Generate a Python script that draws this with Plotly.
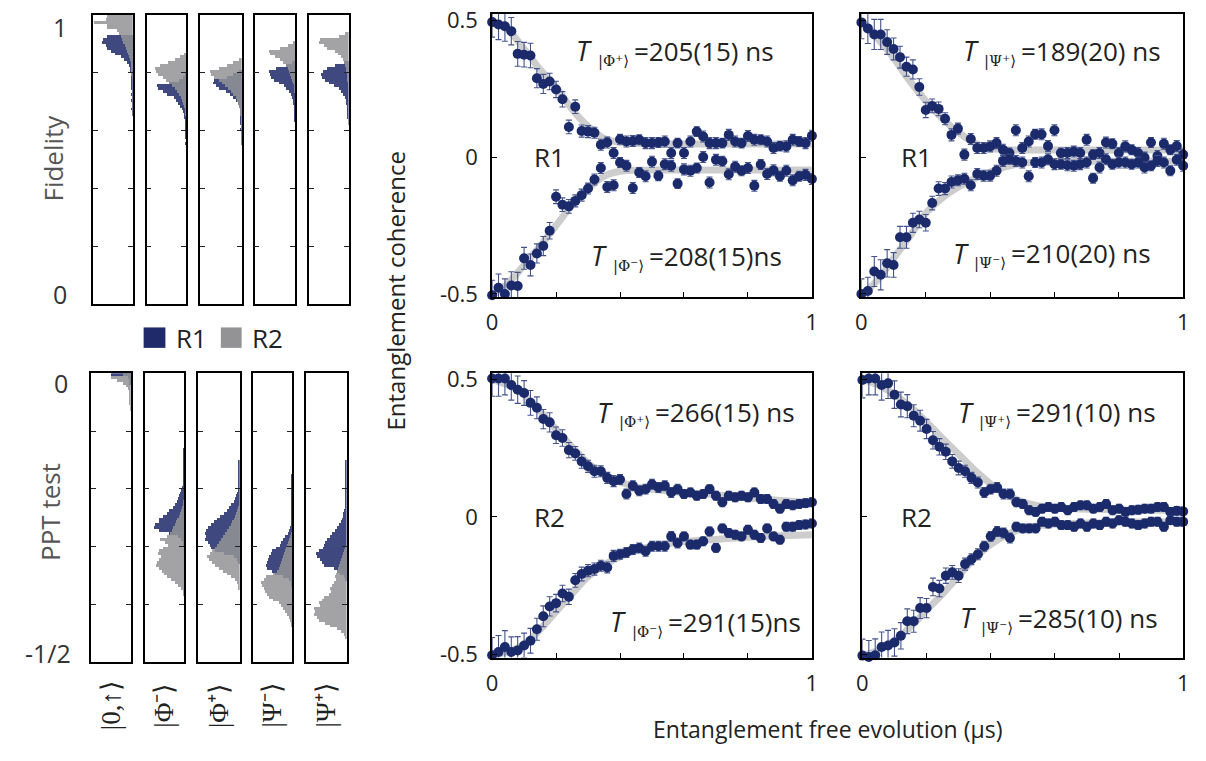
import plotly.graph_objects as go

W, H = 1206, 761

# ---------------- data: entanglement coherence decay ----------------
T_US = [0.00, 0.02, 0.04, 0.06, 0.08, 0.10, 0.12, 0.14, 0.16, 0.18, 0.20, 0.22, 0.24, 0.26, 0.28,
        0.30, 0.32, 0.34, 0.36, 0.38, 0.40, 0.42, 0.44, 0.46, 0.48, 0.50, 0.52, 0.54, 0.56, 0.58,
        0.60, 0.62, 0.64, 0.66, 0.68, 0.70, 0.72, 0.74, 0.76, 0.78, 0.80, 0.82, 0.84, 0.86, 0.88,
        0.90, 0.92, 0.94, 0.96, 0.98, 1.00]

PHIP_R1 = [0.493, 0.484, 0.478, 0.460, 0.377, 0.374, 0.371, 0.288, 0.267, 0.276, 0.247, 0.211, 0.110,
           0.184, 0.095, 0.093, 0.089, 0.045, 0.053, 0.015, 0.065, 0.057, 0.059, 0.063, 0.051, 0.051,
           0.053, 0.057, 0.015, 0.051, 0.015, 0.057, 0.093, 0.075, 0.051, 0.051, 0.051, 0.081, 0.057,
           0.051, 0.077, 0.063, 0.063, 0.057, 0.033, 0.040, 0.039, 0.063, 0.057, 0.051, 0.078]
PHIM_R1 = [-0.505, -0.477, -0.500, -0.469, -0.471, -0.370, -0.394, -0.352, -0.325, -0.269, -0.145,
           -0.174, -0.180, -0.160, -0.139, -0.115, -0.082, -0.040, -0.109, -0.103, -0.020, -0.032,
           -0.113, -0.056, -0.070, -0.017, -0.068, -0.026, -0.032, -0.097, -0.045, -0.050, -0.040,
           0.000, -0.093, -0.010, -0.015, -0.063, -0.035, -0.050, -0.040, -0.105, -0.027, -0.062,
           -0.048, -0.070, -0.050, -0.085, -0.070, -0.065, -0.080]
PSIP_R1 = [0.492, 0.470, 0.448, 0.448, 0.420, 0.395, 0.365, 0.330, 0.320, 0.256, 0.172, 0.187, 0.176,
           0.140, 0.081, 0.104, 0.009, 0.066, 0.033, 0.033, 0.039, 0.051, 0.027, 0.015, 0.098, 0.033,
           0.057, 0.083, 0.083, 0.040, 0.098, 0.015, 0.015, 0.020, 0.015, 0.063, 0.009, 0.015, 0.053,
           0.049, 0.015, 0.039, 0.027, 0.015, -0.002, 0.053, 0.004, 0.049, 0.027, 0.040, 0.009]
PSIM_R1 = [-0.500, -0.489, -0.418, -0.430, -0.388, -0.394, -0.293, -0.293, -0.240, -0.228, -0.240,
           -0.168, -0.115, -0.115, -0.091, -0.085, -0.079, -0.103, -0.062, -0.068, -0.068, -0.050,
           -0.014, -0.008, -0.014, -0.020, -0.070, -0.020, -0.020, -0.008, -0.026, -0.026, -0.030,
           -0.032, -0.026, -0.020, -0.077, -0.038, -0.008, -0.026, -0.020, -0.020, -0.026, -0.020,
           -0.038, -0.032, -0.014, -0.020, -0.050, -0.010, -0.032]
PHIP_R2 = [0.504, 0.504, 0.504, 0.480, 0.463, 0.451, 0.415, 0.397, 0.356, 0.344, 0.297, 0.287, 0.243,
           0.231, 0.202, 0.184, 0.166, 0.166, 0.142, 0.130, 0.136, 0.083, 0.113, 0.095, 0.101, 0.119,
           0.107, 0.113, 0.089, 0.101, 0.083, 0.089, 0.077, 0.083, 0.101, 0.077, 0.053, 0.077, 0.071,
           0.077, 0.071, 0.089, 0.065, 0.065, 0.047, 0.030, 0.047, 0.042, 0.047, 0.050, 0.053]
PHIM_R2 = [-0.504, -0.492, -0.474, -0.492, -0.486, -0.468, -0.451, -0.409, -0.362, -0.326, -0.314,
           -0.279, -0.291, -0.231, -0.208, -0.196, -0.190, -0.178, -0.184, -0.142, -0.136, -0.130,
           -0.119, -0.113, -0.125, -0.107, -0.107, -0.107, -0.071, -0.095, -0.071, -0.101, -0.101,
           -0.089, -0.053, -0.113, -0.042, -0.059, -0.065, -0.071, -0.047, -0.065, -0.077, -0.042,
           -0.071, -0.083, -0.036, -0.036, -0.030, -0.028, -0.024]
PSIP_R2 = [0.498, 0.504, 0.504, 0.480, 0.486, 0.445, 0.409, 0.403, 0.368, 0.350, 0.320, 0.279, 0.255,
           0.237, 0.202, 0.178, 0.166, 0.142, 0.125, 0.089, 0.101, 0.107, 0.083, 0.083, 0.053, 0.047,
           0.024, 0.018, 0.030, 0.036, 0.030, 0.036, 0.024, 0.036, 0.042, 0.042, 0.030, 0.036, 0.047,
           0.024, 0.030, 0.018, 0.024, 0.026, 0.030, 0.030, 0.036, 0.036, 0.018, 0.022, 0.020]
PSIM_R2 = [-0.505, -0.510, -0.504, -0.474, -0.468, -0.457, -0.433, -0.380, -0.380, -0.332, -0.332,
           -0.255, -0.261, -0.214, -0.202, -0.214, -0.172, -0.154, -0.136, -0.107, -0.071, -0.053,
           -0.059, -0.077, -0.036, -0.042, -0.042, -0.042, -0.018, -0.024, -0.018, -0.030, -0.030,
           -0.036, -0.024, -0.036, -0.024, -0.030, -0.018, -0.024, -0.012, -0.018, -0.024, -0.030,
           -0.024, -0.018, -0.018, -0.036, -0.012, -0.018, -0.018]

ERR_PHIP_R1 = [0.055, 0.055, 0.055, 0.050, 0.045, 0.045, 0.045, 0.035, 0.035, 0.030, 0.030, 0.028,
               0.025, 0.025, 0.022, 0.022, 0.020, 0.020, 0.020, 0.020, 0.018, 0.020, 0.020, 0.018,
               0.020, 0.020, 0.018, 0.020, 0.020, 0.018, 0.020, 0.020, 0.018, 0.020, 0.020, 0.020,
               0.018, 0.020, 0.020, 0.018, 0.020, 0.020, 0.018, 0.020, 0.020, 0.018, 0.020, 0.020,
               0.018, 0.020, 0.020]
ERR_PHIM_R1 = [0.055, 0.050, 0.055, 0.050, 0.050, 0.040, 0.040, 0.035, 0.035, 0.030, 0.025, 0.025,
               0.025, 0.022, 0.022, 0.020, 0.020, 0.020, 0.020, 0.020, 0.018, 0.020, 0.020, 0.018,
               0.020, 0.020, 0.018, 0.020, 0.020, 0.018, 0.020, 0.020, 0.018, 0.020, 0.020, 0.020,
               0.018, 0.020, 0.020, 0.018, 0.020, 0.020, 0.018, 0.020, 0.020, 0.018, 0.020, 0.020,
               0.018, 0.020, 0.020]
ERR_PSIP_R1 = [0.060, 0.055, 0.055, 0.055, 0.045, 0.040, 0.040, 0.035, 0.035, 0.030, 0.028, 0.025,
               0.025, 0.022, 0.022, 0.020, 0.020, 0.020, 0.020, 0.020, 0.020, 0.020, 0.020, 0.018,
               0.020, 0.020, 0.020, 0.018, 0.020, 0.020, 0.020, 0.018, 0.020, 0.020, 0.020, 0.020,
               0.018, 0.020, 0.020, 0.018, 0.020, 0.020, 0.018, 0.020, 0.020, 0.018, 0.020, 0.020,
               0.018, 0.020, 0.020]
ERR_PSIM_R1 = [0.055, 0.050, 0.055, 0.055, 0.050, 0.045, 0.040, 0.040, 0.035, 0.030, 0.030, 0.025,
               0.025, 0.022, 0.022, 0.020, 0.020, 0.020, 0.020, 0.020, 0.020, 0.020, 0.020, 0.018,
               0.020, 0.020, 0.020, 0.018, 0.020, 0.020, 0.020, 0.018, 0.020, 0.020, 0.020, 0.020,
               0.018, 0.020, 0.020, 0.018, 0.020, 0.020, 0.018, 0.020, 0.020, 0.018, 0.020, 0.020,
               0.018, 0.020, 0.020]
ERR_PHIP_R2 = [0.065, 0.065, 0.060, 0.055, 0.050, 0.045, 0.045, 0.040, 0.035, 0.035, 0.030, 0.030,
               0.028, 0.025, 0.025, 0.022, 0.022, 0.020, 0.020, 0.020, 0.018, 0.018, 0.018, 0.018,
               0.018, 0.018, 0.018, 0.018, 0.018, 0.018, 0.016, 0.016, 0.016, 0.016, 0.016, 0.016,
               0.016, 0.016, 0.016, 0.016, 0.016, 0.016, 0.016, 0.016, 0.016, 0.016, 0.016, 0.016,
               0.016, 0.016, 0.016]
ERR_PHIM_R2 = [0.065, 0.060, 0.060, 0.055, 0.050, 0.045, 0.045, 0.040, 0.038, 0.035, 0.032, 0.030,
               0.028, 0.025, 0.025, 0.022, 0.022, 0.020, 0.020, 0.020, 0.018, 0.018, 0.018, 0.018,
               0.018, 0.018, 0.018, 0.018, 0.018, 0.018, 0.016, 0.016, 0.016, 0.016, 0.016, 0.016,
               0.016, 0.016, 0.016, 0.016, 0.016, 0.016, 0.016, 0.016, 0.016, 0.016, 0.016, 0.016,
               0.016, 0.016, 0.016]
ERR_PSIP_R2 = [0.065, 0.060, 0.060, 0.055, 0.055, 0.050, 0.045, 0.042, 0.040, 0.038, 0.035, 0.032,
               0.030, 0.028, 0.025, 0.025, 0.022, 0.020, 0.020, 0.018, 0.018, 0.018, 0.018, 0.018,
               0.016, 0.016, 0.016, 0.016, 0.016, 0.016, 0.016, 0.016, 0.016, 0.016, 0.016, 0.016,
               0.016, 0.016, 0.016, 0.016, 0.016, 0.016, 0.016, 0.016, 0.016, 0.016, 0.016, 0.016,
               0.016, 0.016, 0.016]
ERR_PSIM_R2 = [0.060, 0.060, 0.060, 0.055, 0.055, 0.050, 0.048, 0.045, 0.040, 0.038, 0.035, 0.032,
               0.030, 0.028, 0.025, 0.025, 0.022, 0.020, 0.020, 0.018, 0.018, 0.018, 0.018, 0.018,
               0.016, 0.016, 0.016, 0.016, 0.016, 0.016, 0.016, 0.016, 0.016, 0.016, 0.016, 0.016,
               0.016, 0.016, 0.016, 0.016, 0.016, 0.016, 0.016, 0.016, 0.016, 0.016, 0.016, 0.016,
               0.016, 0.016, 0.016]

FIT_T = [0.00, 0.05, 0.10, 0.15, 0.20, 0.25, 0.30, 0.35, 0.40, 0.45, 0.50,
         0.55, 0.60, 0.65, 0.70, 0.75, 0.80, 0.85, 0.90, 0.95, 1.00]
FIT_PHIP_R1 = [0.497, 0.465, 0.395, 0.320, 0.255, 0.175, 0.112, 0.068, 0.053, 0.050, 0.049,
               0.048, 0.048, 0.048, 0.048, 0.048, 0.048, 0.048, 0.048, 0.048, 0.048]
FIT_PHIM_R1 = [-0.505, -0.460, -0.395, -0.325, -0.250, -0.175, -0.115, -0.070, -0.052, -0.048, -0.047,
               -0.047, -0.047, -0.047, -0.047, -0.047, -0.047, -0.047, -0.047, -0.047, -0.047]
FIT_PSIP_R1 = [0.500, 0.434, 0.362, 0.278, 0.206, 0.143, 0.092, 0.052, 0.032, 0.027, 0.026,
               0.026, 0.026, 0.026, 0.026, 0.026, 0.026, 0.026, 0.026, 0.026, 0.026]
FIT_PSIM_R1 = [-0.505, -0.450, -0.370, -0.290, -0.205, -0.150, -0.110, -0.080, -0.055, -0.035, -0.022,
               -0.018, -0.016, -0.015, -0.015, -0.015, -0.015, -0.015, -0.015, -0.015, -0.015]
FIT_PHIP_R2 = [0.500, 0.480, 0.445, 0.385, 0.318, 0.255, 0.195, 0.155, 0.127, 0.110, 0.100,
               0.094, 0.088, 0.085, 0.080, 0.075, 0.068, 0.064, 0.060, 0.056, 0.053]
FIT_PHIM_R2 = [-0.505, -0.490, -0.465, -0.410, -0.345, -0.280, -0.218, -0.175, -0.145, -0.122, -0.108,
               -0.098, -0.090, -0.085, -0.082, -0.078, -0.074, -0.071, -0.069, -0.067, -0.065]
FIT_PSIP_R2 = [0.500, 0.480, 0.445, 0.400, 0.345, 0.285, 0.228, 0.170, 0.120, 0.080, 0.055,
               0.040, 0.033, 0.030, 0.028, 0.027, 0.026, 0.025, 0.025, 0.024, 0.024]
FIT_PSIM_R2 = [-0.505, -0.485, -0.450, -0.400, -0.340, -0.280, -0.215, -0.150, -0.100, -0.065, -0.043,
               -0.032, -0.027, -0.024, -0.022, -0.021, -0.020, -0.019, -0.019, -0.018, -0.018]

# ---------------- data: histograms (counts per bin, bin 0 at the top) ----------------
STATE_LABELS = ["|0,\u2191\u27e9", "|\u03a6\u207b\u27e9", "|\u03a6\u207a\u27e9", "|\u03a8\u207b\u27e9", "|\u03a8\u207a\u27e9"]
FID_BIN_WIDTH = 0.01
PPT_BIN_WIDTH = 0.005

FID_R1_0UP = [0]*7 + [26, 31, 32, 28, 27, 22, 18, 12, 9, 6, 4, 3, 2.5, 2, 1.5, 1, 1, 1, 1, 0.5, 1, 0.5, 1, 0.5, 0.5, 1, 0.5, 0.5]
FID_R2_0UP = [27, 28, 40, 27, 26, 16, 14, 12, 11, 10, 8, 7, 6, 5, 4, 3, 2, 2, 1, 1, 1, 0.5]
FID_R1_PHIM = [0]*20 + [2, 4, 8, 18, 31, 30, 24, 20, 13, 11, 9, 7, 5, 4, 3, 3, 2, 2, 1.5, 1, 1, 1, 1, 0.5, 1, 0.5, 0.5, 0.5, 0.5, 0.5]
FID_R2_PHIM = [0]*13 + [3, 7, 12, 19, 28, 33, 32, 30, 24, 21, 18, 15, 12, 10, 8, 6, 5, 4, 3, 2, 2, 1]
FID_R1_PHIP = [0]*19 + [3, 8, 14, 27, 28, 25, 22, 15, 11, 8, 6, 4, 3, 2, 2, 1.5, 1, 1, 1, 0.5, 1, 0.5, 0.5, 0.5, 0.5, 0.5]
FID_R2_PHIP = [0]*15 + [3, 8, 14, 22, 31, 30, 27, 22, 19, 16, 13, 10, 8, 6, 5, 4, 3, 2, 1, 1]
FID_R1_PSIM = [0]*16 + [4, 10, 20, 27, 26, 25, 22, 17, 12, 10, 7, 5, 4, 3, 3, 2, 2, 1, 1, 1, 1, 0.5, 0.5]
FID_R2_PSIM = [0]*9 + [3, 8, 16, 27, 26, 21, 16, 13, 10, 8, 7, 6, 5, 4, 3, 2, 2, 1]
FID_R1_PSIP = [0]*16 + [5, 14, 22, 26, 29, 28, 24, 20, 15, 10, 8, 6, 4, 3, 3, 2, 2, 1, 1, 1, 0.5, 0.5]
FID_R2_PSIP = [0]*6 + [4, 10, 30, 31, 25, 22, 14, 11, 8, 6, 5, 4, 3, 3, 2, 2, 1]

PPT_R1_0UP = [20, 3, 1, 1]
PPT_R2_0UP = [8, 20, 14, 8, 5, 3, 2, 2, 1, 1, 1, 0.5, 0.5]
PPT_R1_PHIM = [0]*26 + [1]*13 + [3, 4, 5, 6, 7, 8, 10, 12, 16, 18, 22, 26, 27, 31, 32, 27, 16, 7, 4, 2, 1]
PPT_R2_PHIM = [0]*44 + [2, 2, 3, 4, 5, 6, 8, 9, 10, 12, 13, 15, 18, 25, 20, 17, 22, 26, 28, 24, 27, 29,
                        30, 26, 23, 21, 18, 14, 10, 7, 4, 2, 1]
PPT_R1_PHIP = [0]*30 + [1]*10 + [2, 3, 4, 5, 6, 8, 10, 12, 15, 19, 22, 25, 28, 31, 33, 34, 33, 34, 31, 29,
                                 28, 24, 15, 6, 3, 1]
PPT_R2_PHIP = [0]*46 + [2, 3, 4, 5, 6, 7, 8, 10, 12, 14, 16, 18, 20, 22, 24, 27, 29, 32, 30, 27, 24, 20,
                        16, 12, 8, 5, 3, 2, 1]
PPT_R1_PSIM = [0]*35 + [1]*16 + [1, 2, 3, 4, 5, 8, 10, 12, 13, 17, 21, 22, 24, 25, 26, 28, 27, 21, 18, 10, 4, 2, 1]
PPT_R2_PSIM = [0]*55 + [2, 3, 4, 5, 6, 7, 8, 9, 10, 11, 12, 13, 14, 16, 20, 28, 30, 33, 32, 30, 29, 27, 24,
                        20, 14, 12, 10, 8, 6, 4, 3, 2, 1]
PPT_R1_PSIP = [0]*30 + [1]*15 + [2, 2, 3, 4, 4, 5, 6, 8, 10, 12, 15, 17, 20, 22, 23, 24, 28, 31, 30, 27, 25,
                                 23, 13, 10, 7, 3, 1]
PPT_R2_PSIP = [0]*60 + [2, 3, 4, 5, 6, 7, 8, 9, 10, 11, 12, 11, 13, 15, 17, 16, 18, 23, 25, 28, 27, 33, 32,
                        33, 30, 28, 22, 17, 10, 6, 3, 1]

FID_R1 = [FID_R1_0UP, FID_R1_PHIM, FID_R1_PHIP, FID_R1_PSIM, FID_R1_PSIP]
FID_R2 = [FID_R2_0UP, FID_R2_PHIM, FID_R2_PHIP, FID_R2_PSIM, FID_R2_PSIP]
PPT_R1 = [PPT_R1_0UP, PPT_R1_PHIM, PPT_R1_PHIP, PPT_R1_PSIM, PPT_R1_PSIP]
PPT_R2 = [PPT_R2_0UP, PPT_R2_PHIM, PPT_R2_PHIP, PPT_R2_PSIM, PPT_R2_PSIP]

FID_BINS = [1 - FID_BIN_WIDTH * (k + 0.5) for k in range(100)]
PPT_BINS = [-PPT_BIN_WIDTH * (k + 0.5) for k in range(100)]

# ---------------- style ----------------
BLUE = "#1f2a6a"
GRAY = "#939396"
DOT = "#1b2a6b"
ERRC = "#44538c"
FITC = "#cdcdcd"
TXT = "#222222"
SANS = "Open Sans"


def dom_x(x0, x1):
    return [x0 / W, x1 / W]


def dom_y(y0, y1):
    return [1 - y1 / H, 1 - y0 / H]


fig = go.Figure()
layout = dict(width=W, height=H, margin=dict(l=0, r=0, t=0, b=0), autosize=False,
              paper_bgcolor="white", plot_bgcolor="white", showlegend=False,
              barmode="overlay", bargap=0, font=dict(family=SANS, color=TXT))

# ---------------- main panels ----------------
# pup / pdn: position (t, value) of the "=" sign of the time-constant labels
PANELS = [
    dict(box=(491, 814, 4, 295), up=(PHIP_R1, ERR_PHIP_R1, FIT_PHIP_R1), dn=(PHIM_R1, ERR_PHIM_R1, FIT_PHIM_R1),
         ylab=True, reg="R1", sym="\u03a6", tup="=205(15) ns", tdn="=208(15)ns",
         pup=(0.436, 0.388), pdn=(0.483, -0.36), preg=(0.18, 0.0)),
    dict(box=(864, 1189, 4, 295), up=(PSIP_R1, ERR_PSIP_R1, FIT_PSIP_R1), dn=(PSIM_R1, ERR_PSIM_R1, FIT_PSIM_R1),
         ylab=False, reg="R1", sym="\u03a8", tup="=189(20) ns", tdn="=210(20) ns",
         pup=(0.489, 0.388), pdn=(0.458, -0.352), preg=(0.17, 0.0)),
    dict(box=(491, 814, 373, 665), up=(PHIP_R2, ERR_PHIP_R2, FIT_PHIP_R2), dn=(PHIM_R2, ERR_PHIM_R2, FIT_PHIM_R2),
         ylab=True, reg="R2", sym="\u03a6", tup="=266(15) ns", tdn="=291(15)ns",
         pup=(0.502, 0.381), pdn=(0.545, -0.381), preg=(0.18, 0.0)),
    dict(box=(865, 1189, 373, 665), up=(PSIP_R2, ERR_PSIP_R2, FIT_PSIP_R2), dn=(PSIM_R2, ERR_PSIM_R2, FIT_PSIM_R2),
         ylab=False, reg="R2", sym="\u03a8", tup="=291(10) ns", tdn="=285(10) ns",
         pup=(0.472, 0.381), pdn=(0.478, -0.367), preg=(0.17, 0.0)),
]

annotations = []
shapes = []


def tlabel(xa, ya, pos, sym, sign, val):
    base = dict(x=pos[0], y=pos[1], xref=xa, yref=ya, showarrow=False, yanchor="middle")
    annotations.append(dict(base, text=val, xanchor="left",
                            font=dict(size=26, family=SANS, color=TXT)))
    annotations.append(dict(base, text="|" + sym + sign + "\u27e9", xanchor="right", xshift=-1, yshift=-10,
                            font=dict(size=15, family="DejaVu Serif", color=TXT)))
    annotations.append(dict(base, text="<i>T</i>", xanchor="right", xshift=-38,
                            font=dict(size=27, family=SANS, color=TXT)))


AX_MINOR_BASE = 20  # axis ids used for the unlabeled minor-tick overlay axes
for i, p in enumerate(PANELS):
    n = i + 1
    xa = "x" if n == 1 else f"x{n}"
    ya = "y" if n == 1 else f"y{n}"
    x0, x1, y0, y1 = p["box"]
    layout["xaxis" if n == 1 else f"xaxis{n}"] = dict(
        domain=dom_x(x0, x1), anchor=ya, range=[0, 1], showgrid=False, zeroline=False,
        showline=True, linecolor="black", linewidth=1.5, mirror=True,
        ticks="inside", ticklen=5, tickwidth=1, tickcolor="black",
        tickvals=[0, 1], ticktext=["0", "1"],
        tickfont=dict(size=22, family=SANS, color=TXT), ticklabelstandoff=5)
    m = AX_MINOR_BASE + n
    layout[f"xaxis{m}"] = dict(
        domain=dom_x(x0, x1), anchor=ya, overlaying=xa, side="bottom", range=[0, 1],
        showgrid=False, zeroline=False, showline=False, ticks="inside", ticklen=5, tickwidth=1,
        tickcolor="black", tickvals=[0.2, 0.4, 0.6, 0.8], showticklabels=False)
    layout["yaxis" if n == 1 else f"yaxis{n}"] = dict(
        domain=dom_y(y0, y1), anchor=xa, range=[-0.512, 0.523], showgrid=False, zeroline=False,
        showline=True, linecolor="black", linewidth=1.5, mirror=True,
        ticks="inside", ticklen=5, tickwidth=1, tickcolor="black",
        tickvals=[-0.5, 0, 0.5], ticktext=["-0.5", "0", "0.5"], showticklabels=p["ylab"],
        tickfont=dict(size=22, family=SANS, color=TXT), ticklabelstandoff=8)
    fig.add_trace(go.Scatter(x=[0, 1], y=[0, 0], mode="lines", xaxis=f"x{m}", yaxis=ya,
                             line=dict(width=0, color="rgba(0,0,0,0)"), hoverinfo="skip"))
    for key in ("up", "dn"):
        vals, errs, fit = p[key]
        fig.add_trace(go.Scatter(x=FIT_T, y=fit, mode="lines", xaxis=xa, yaxis=ya,
                                 line=dict(color=FITC, width=7, shape="spline", smoothing=0.8),
                                 hoverinfo="skip", cliponaxis=True))
    for key in ("up", "dn"):
        vals, errs, fit = p[key]
        fig.add_trace(go.Scatter(x=T_US, y=vals, mode="markers", xaxis=xa, yaxis=ya,
                                 marker=dict(color=DOT, size=10, line=dict(width=0)),
                                 error_y=dict(type="data", array=errs, visible=True, color=ERRC,
                                              thickness=1.1, width=3),
                                 cliponaxis=False))
    tlabel(xa, ya, p["pup"], p["sym"], "\u207a", p["tup"])
    tlabel(xa, ya, p["pdn"], p["sym"], "\u207b", p["tdn"])
    annotations.append(dict(x=p["preg"][0], y=p["preg"][1], xref=xa, yref=ya, showarrow=False,
                            text=p["reg"], xanchor="center", yanchor="middle",
                            font=dict(size=26, family=SANS, color=TXT)))

# ---------------- histograms ----------------
TOP_BOXES = [(88, 128), (142, 182), (196, 238), (251, 292), (306, 346)]
BOT_BOXES = [(86, 126), (140, 180), (194, 236), (249, 289), (303, 344)]

n = 4
for row, (boxes, yb, r1s, r2s, bins, bw, yr, tv) in enumerate([
        (TOP_BOXES, (5, 302), FID_R1, FID_R2, FID_BINS, FID_BIN_WIDTH, [0, 1], [0.2, 0.4, 0.6, 0.8]),
        (BOT_BOXES, (373, 670), PPT_R1, PPT_R2, PPT_BINS, PPT_BIN_WIDTH, [-0.5, 0], [-0.4, -0.3, -0.2, -0.1])]):
    for j, (bx0, bx1) in enumerate(boxes):
        n += 1
        xa, ya = f"x{n}", f"y{n}"
        layout[f"xaxis{n}"] = dict(domain=dom_x(bx0, bx1), anchor=ya, range=[41, 0], showgrid=False,
                                   zeroline=False, showline=True, linecolor="black", linewidth=1.5,
                                   mirror=True, ticks="", showticklabels=False)
        layout[f"yaxis{n}"] = dict(domain=dom_y(*yb), anchor=xa, range=yr, showgrid=False,
                                   zeroline=False, showline=True, linecolor="black", linewidth=1.5,
                                   mirror="ticks", ticks="inside", ticklen=5, tickwidth=1.2,
                                   tickcolor="#222", tickvals=tv, showticklabels=False)
        c1, c2 = r1s[j], r2s[j]
        fig.add_trace(go.Bar(x=c1, y=bins[:len(c1)], orientation="h", width=bw, xaxis=xa, yaxis=ya,
                             marker=dict(color=BLUE, line=dict(width=0)), opacity=0.85, hoverinfo="skip"))
        fig.add_trace(go.Bar(x=c2, y=bins[:len(c2)], orientation="h", width=bw, xaxis=xa, yaxis=ya,
                             marker=dict(color=GRAY, line=dict(width=0)), opacity=0.85, hoverinfo="skip"))


def pa(text, x, y, size=24, color=TXT, angle=0, family=SANS, xanchor="center"):
    annotations.append(dict(x=x / W, y=1 - y / H, xref="paper", yref="paper", text=text, showarrow=False,
                            textangle=angle, xanchor=xanchor, yanchor="middle",
                            font=dict(size=size, family=family, color=color)))


# histogram axis labels
pa("1", 55, 17, size=25, color="#333")
pa("0", 55, 292, size=25, color="#333")
pa("0", 56, 383, size=25, color="#333")
pa("-1/2", 42, 660, size=25, color="#333")
pa("Fidelity", 47, 152, size=26, color="#555", angle=-90)
pa("PPT test", 45, 516, size=26, color="#555", angle=-90)

# legend
shapes.append(dict(type="rect", xref="paper", yref="paper", x0=139 / W, x1=161 / W,
                   y0=1 - 347 / H, y1=1 - 326 / H, fillcolor=BLUE, line=dict(width=0)))
shapes.append(dict(type="rect", xref="paper", yref="paper", x0=217 / W, x1=238 / W,
                   y0=1 - 347 / H, y1=1 - 326 / H, fillcolor=GRAY, line=dict(width=0)))
pa("R1", 170, 337, size=26, xanchor="left")
pa("R2", 246, 337, size=26, xanchor="left")

# state kets under histograms
for j, lab in enumerate(STATE_LABELS):
    cx = (BOT_BOXES[j][0] + BOT_BOXES[j][1]) / 2
    pa(lab, cx, 714, size=27, family="Liberation Serif", angle=-90)

# shared axis titles
pa("Entanglement coherence", 393, 288, size=24, angle=-90)
pa("Entanglement free evolution (\u03bcs)", 830, 738, size=23)

layout["annotations"] = annotations
layout["shapes"] = shapes
fig.update_layout(**layout)
fig.write_html("out.html")
